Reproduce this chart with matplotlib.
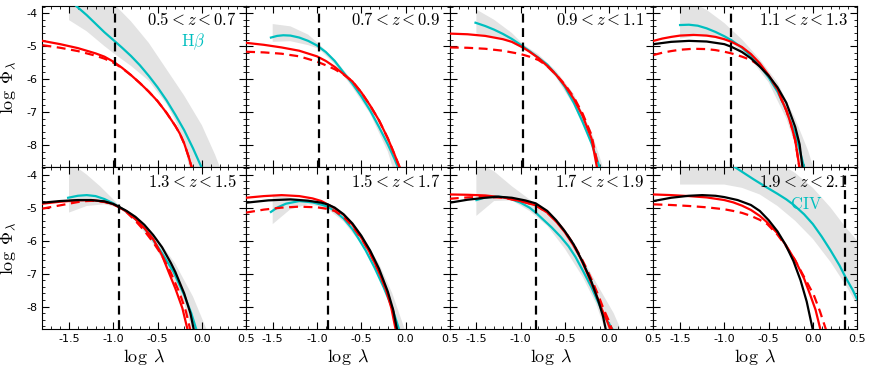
import numpy as np
import matplotlib
matplotlib.use('Agg')
import matplotlib.pyplot as plt
from matplotlib.ticker import MultipleLocator, FormatStrFormatter

plt.rcParams['mathtext.fontset'] = 'cm'
plt.rcParams['axes.unicode_minus'] = False

# redshift bins
z_labels = [r'$0.5<z<0.7$', r'$0.7<z<0.9$', r'$0.9<z<1.1$', r'$1.1<z<1.3$',
            r'$1.3<z<1.5$', r'$1.5<z<1.7$', r'$1.7<z<1.9$', r'$1.9<z<2.1$']

# vertical dashed line (log lambda) per panel
vline_x = [-0.98, -0.98, -0.97, -0.92, -0.94, -0.88, -0.83, 0.36]

# cyan curves (log lambda, log Phi)
cyan_1 = [[-1.45, -3.7], [-1.42, -3.78], [-1.3, -4.06], [-1.2, -4.32], [-1.1, -4.58],
          [-0.98, -4.86], [-0.9, -5.05], [-0.8, -5.3], [-0.7, -5.58], [-0.6, -5.9],
          [-0.5, -6.25], [-0.4, -6.64], [-0.3, -7.08], [-0.2, -7.55], [-0.1, -8.1],
          [0.0, -8.7], [0.02, -8.82]]
cyan_2 = [[-1.52, -4.74], [-1.45, -4.69], [-1.38, -4.67], [-1.3, -4.68], [-1.2, -4.74],
          [-1.1, -4.84], [-1.0, -4.98], [-0.9, -5.18], [-0.8, -5.45], [-0.7, -5.8],
          [-0.6, -6.14], [-0.5, -6.52], [-0.4, -6.95], [-0.3, -7.45], [-0.2, -7.98],
          [-0.12, -8.45], [-0.08, -8.72], [-0.06, -8.85]]
cyan_3 = [[-1.51, -4.29], [-1.4, -4.39], [-1.3, -4.5], [-1.2, -4.63], [-1.1, -4.78],
          [-1.0, -4.96], [-0.9, -5.15], [-0.8, -5.35], [-0.7, -5.56], [-0.6, -5.86],
          [-0.5, -6.24], [-0.4, -6.72], [-0.3, -7.3], [-0.2, -7.95], [-0.105, -8.7],
          [-0.09, -8.82]]
cyan_4 = [[-1.5, -4.36], [-1.4, -4.35], [-1.3, -4.38], [-1.2, -4.46], [-1.1, -4.57],
          [-1.0, -4.7], [-0.92, -4.82], [-0.8, -5.05], [-0.7, -5.3], [-0.6, -5.6],
          [-0.5, -5.95], [-0.4, -6.38], [-0.3, -6.95], [-0.2, -7.65], [-0.094, -8.72],
          [-0.08, -8.85]]
cyan_5 = [[-1.51, -4.7], [-1.4, -4.64], [-1.3, -4.62], [-1.2, -4.65], [-1.1, -4.74],
          [-1.0, -4.87], [-0.94, -4.97], [-0.85, -5.12], [-0.75, -5.35], [-0.65, -5.62],
          [-0.57, -5.9], [-0.45, -6.38], [-0.32, -6.95], [-0.2, -7.65], [-0.12, -8.2],
          [-0.06, -8.72], [-0.05, -8.85]]
cyan_6 = [[-1.52, -5.13], [-1.45, -5.0], [-1.35, -4.88], [-1.2, -4.8], [-1.05, -4.84],
          [-0.95, -4.91], [-0.88, -4.97], [-0.8, -5.1], [-0.7, -5.33], [-0.6, -5.65],
          [-0.54, -5.9], [-0.45, -6.3], [-0.35, -6.82], [-0.25, -7.4], [-0.15, -8.05],
          [-0.07, -8.72], [-0.05, -8.85]]
cyan_7 = [[-1.5, -4.77], [-1.4, -4.69], [-1.29, -4.65], [-1.15, -4.7], [-1.0, -4.85],
          [-0.9, -5.0], [-0.83, -5.15], [-0.75, -5.35], [-0.65, -5.6], [-0.55, -5.88],
          [-0.46, -6.17], [-0.38, -6.5], [-0.29, -6.95], [-0.2, -7.42], [-0.12, -7.9],
          [-0.05, -8.32], [0.045, -8.72], [0.06, -8.85]]
cyan_8 = [[-0.95, -3.65], [-0.87, -3.79], [-0.75, -4.0], [-0.67, -4.14], [-0.55, -4.34],
          [-0.4, -4.58], [-0.3, -4.75], [-0.215, -4.92], [-0.1, -5.2], [0.0, -5.5],
          [0.1, -5.88], [0.2, -6.3], [0.3, -6.75], [0.37, -7.12], [0.45, -7.5],
          [0.5, -7.78]]

# red solid curves
red_1 = [[-1.8, -4.84], [-1.6, -4.94], [-1.4, -5.06], [-1.2, -5.22], [-1.1, -5.32],
         [-1.0, -5.47], [-0.9, -5.66], [-0.8, -5.88], [-0.7, -6.12], [-0.6, -6.38],
         [-0.5, -6.67], [-0.4, -7.02], [-0.3, -7.42], [-0.25, -7.65], [-0.2, -7.95],
         [-0.15, -8.35], [-0.11, -8.72], [-0.1, -8.85]]
red_2 = [[-1.8, -4.9], [-1.6, -4.96], [-1.4, -5.04], [-1.2, -5.14], [-1.0, -5.31],
         [-0.9, -5.45], [-0.8, -5.63], [-0.7, -5.85], [-0.6, -6.07], [-0.5, -6.4],
         [-0.4, -6.8], [-0.3, -7.25], [-0.2, -7.8], [-0.13, -8.25], [-0.06, -8.72],
         [-0.05, -8.85]]
red_3 = [[-1.8, -4.62], [-1.6, -4.64], [-1.4, -4.69], [-1.2, -4.79], [-1.1, -4.87],
         [-0.97, -5.05], [-0.9, -5.17], [-0.8, -5.36], [-0.7, -5.6], [-0.6, -5.87],
         [-0.5, -6.2], [-0.4, -6.6], [-0.3, -7.12], [-0.2, -7.8], [-0.135, -8.72],
         [-0.125, -8.85]]
red_4 = [[-1.8, -4.84], [-1.7, -4.77], [-1.6, -4.72], [-1.5, -4.68], [-1.35, -4.66],
         [-1.2, -4.68], [-1.1, -4.72], [-1.0, -4.79], [-0.92, -4.87], [-0.8, -5.03],
         [-0.7, -5.24], [-0.6, -5.52], [-0.5, -5.88], [-0.4, -6.3], [-0.35, -6.64],
         [-0.3, -6.95], [-0.25, -7.35], [-0.2, -7.85], [-0.15, -8.72], [-0.14, -8.85]]
red_5 = [[-1.8, -4.88], [-1.6, -4.82], [-1.4, -4.78], [-1.25, -4.77], [-1.1, -4.82],
         [-1.0, -4.9], [-0.94, -4.98], [-0.85, -5.12], [-0.75, -5.35], [-0.65, -5.62],
         [-0.55, -5.95], [-0.45, -6.45], [-0.38, -6.92], [-0.3, -7.45], [-0.22, -8.05],
         [-0.16, -8.72], [-0.15, -8.85]]
red_6 = [[-1.8, -4.7], [-1.6, -4.65], [-1.4, -4.62], [-1.2, -4.65], [-1.05, -4.72],
         [-0.95, -4.8], [-0.88, -4.9], [-0.8, -5.02], [-0.7, -5.22], [-0.6, -5.52],
         [-0.49, -5.95], [-0.4, -6.38], [-0.3, -6.95], [-0.22, -7.5], [-0.16, -8.05],
         [-0.11, -8.72], [-0.1, -8.85]]
red_7 = [[-1.8, -4.6], [-1.6, -4.61], [-1.4, -4.63], [-1.2, -4.69], [-1.0, -4.8],
         [-0.83, -4.93], [-0.7, -5.15], [-0.59, -5.45], [-0.5, -5.75], [-0.41, -6.12],
         [-0.33, -6.5], [-0.26, -6.92], [-0.2, -7.3], [-0.14, -7.68], [-0.08, -8.1],
         [-0.03, -8.4], [0.016, -8.72], [0.03, -8.85]]
red_8 = [[-1.8, -4.6], [-1.6, -4.62], [-1.4, -4.65], [-1.2, -4.69], [-1.0, -4.77],
         [-0.9, -4.84], [-0.8, -4.94], [-0.7, -5.07], [-0.6, -5.25], [-0.515, -5.45],
         [-0.4, -5.78], [-0.3, -6.16], [-0.2, -6.6], [-0.1, -7.15], [-0.03, -7.65],
         [0.03, -8.1], [0.087, -8.72], [0.1, -8.85]]

# red dashed curves
redd_1 = [[-1.8, -4.97], [-1.6, -5.05], [-1.4, -5.15], [-1.2, -5.29], [-1.1, -5.38],
          [-1.0, -5.5], [-0.9, -5.67], [-0.8, -5.88], [-0.7, -6.12], [-0.6, -6.38],
          [-0.5, -6.67], [-0.4, -7.02], [-0.3, -7.42], [-0.25, -7.65], [-0.2, -7.95],
          [-0.15, -8.35], [-0.11, -8.72], [-0.1, -8.85]]
redd_2 = [[-1.8, -5.17], [-1.6, -5.19], [-1.4, -5.23], [-1.2, -5.31], [-1.0, -5.47],
          [-0.9, -5.58], [-0.8, -5.7], [-0.7, -5.86], [-0.6, -6.07], [-0.5, -6.4],
          [-0.4, -6.8], [-0.3, -7.25], [-0.2, -7.8], [-0.13, -8.25], [-0.06, -8.72],
          [-0.05, -8.85]]
redd_3 = [[-1.8, -5.04], [-1.6, -5.05], [-1.4, -5.08], [-1.2, -5.14], [-1.0, -5.24],
          [-0.9, -5.32], [-0.8, -5.42], [-0.7, -5.6], [-0.6, -5.86], [-0.5, -6.17],
          [-0.4, -6.55], [-0.3, -7.05], [-0.2, -7.7], [-0.12, -8.72], [-0.11, -8.85]]
redd_4 = [[-1.8, -5.27], [-1.7, -5.2], [-1.6, -5.15], [-1.5, -5.11], [-1.35, -5.08],
          [-1.2, -5.09], [-1.1, -5.12], [-1.0, -5.17], [-0.92, -5.22], [-0.8, -5.32],
          [-0.7, -5.42], [-0.6, -5.6], [-0.5, -5.9], [-0.4, -6.31], [-0.35, -6.65],
          [-0.3, -6.95], [-0.25, -7.35], [-0.2, -7.85], [-0.15, -8.72], [-0.14, -8.85]]
redd_5 = [[-1.8, -5.03], [-1.6, -4.93], [-1.5, -4.88], [-1.4, -4.83], [-1.3, -4.8],
          [-1.2, -4.79], [-1.1, -4.83], [-1.0, -4.9], [-0.94, -4.98], [-0.85, -5.14],
          [-0.75, -5.4], [-0.65, -5.7], [-0.55, -6.05], [-0.45, -6.45], [-0.35, -6.98],
          [-0.25, -7.6], [-0.18, -8.15], [-0.13, -8.72], [-0.12, -8.85]]
redd_6 = [[-1.8, -5.15], [-1.6, -5.06], [-1.4, -5.0], [-1.2, -4.97], [-1.0, -4.99],
          [-0.9, -5.03], [-0.8, -5.1], [-0.7, -5.28], [-0.6, -5.56], [-0.5, -5.93],
          [-0.4, -6.38], [-0.3, -6.95], [-0.2, -7.62], [-0.14, -8.15], [-0.1, -8.72],
          [-0.09, -8.85]]
redd_7 = [[-1.8, -4.73], [-1.6, -4.69], [-1.4, -4.67], [-1.2, -4.7], [-1.0, -4.8],
          [-0.83, -4.93], [-0.7, -5.15], [-0.59, -5.43], [-0.5, -5.72], [-0.41, -6.08],
          [-0.33, -6.45], [-0.25, -6.88], [-0.18, -7.3], [-0.12, -7.68], [-0.06, -8.1],
          [-0.01, -8.4], [0.035, -8.72], [0.05, -8.85]]
redd_8 = [[-1.8, -4.9], [-1.6, -4.92], [-1.4, -4.95], [-1.2, -4.99], [-1.0, -5.05],
          [-0.9, -5.1], [-0.8, -5.16], [-0.7, -5.25], [-0.6, -5.37], [-0.515, -5.5],
          [-0.4, -5.82], [-0.3, -6.18], [-0.2, -6.6], [-0.1, -7.1], [0.01, -7.65],
          [0.08, -8.15], [0.15, -8.72], [0.16, -8.85]]

# black curves (panels 4-8 only)
black_4 = [[-1.8, -4.94], [-1.6, -4.87], [-1.4, -4.84], [-1.2, -4.86], [-1.0, -4.94],
           [-0.92, -5.02], [-0.8, -5.18], [-0.7, -5.37], [-0.6, -5.62], [-0.5, -5.9],
           [-0.4, -6.25], [-0.3, -6.72], [-0.2, -7.45], [-0.15, -7.98], [-0.116, -8.72],
           [-0.105, -8.85]]
black_5 = [[-1.8, -4.85], [-1.6, -4.8], [-1.4, -4.77], [-1.25, -4.77], [-1.1, -4.81],
           [-1.0, -4.89], [-0.94, -4.97], [-0.85, -5.1], [-0.75, -5.28], [-0.65, -5.52],
           [-0.55, -5.83], [-0.45, -6.2], [-0.35, -6.68], [-0.3, -6.95], [-0.2, -7.6],
           [-0.13, -8.2], [-0.09, -8.72], [-0.08, -8.85]]
black_6 = [[-1.8, -4.85], [-1.55, -4.78], [-1.3, -4.75], [-1.1, -4.79], [-0.95, -4.85],
           [-0.88, -4.9], [-0.8, -5.0], [-0.7, -5.2], [-0.6, -5.48], [-0.5, -5.85],
           [-0.4, -6.3], [-0.3, -6.85], [-0.2, -7.55], [-0.14, -8.1], [-0.095, -8.72],
           [-0.085, -8.85]]
black_7 = [[-1.8, -4.85], [-1.6, -4.76], [-1.4, -4.7], [-1.25, -4.67], [-1.1, -4.7],
           [-0.95, -4.78], [-0.83, -4.87], [-0.7, -5.1], [-0.6, -5.38], [-0.5, -5.72],
           [-0.4, -6.12], [-0.3, -6.65], [-0.2, -7.25], [-0.12, -7.85], [-0.07, -8.3],
           [-0.037, -8.72], [-0.03, -8.85]]
black_8 = [[-1.8, -4.8], [-1.6, -4.7], [-1.4, -4.64], [-1.25, -4.62], [-1.1, -4.64],
           [-1.0, -4.68], [-0.85, -4.77], [-0.7, -4.92], [-0.6, -5.1], [-0.5, -5.38],
           [-0.4, -5.72], [-0.31, -6.12], [-0.22, -6.62], [-0.14, -7.2], [-0.07, -7.85],
           [0.0, -8.72], [0.01, -8.85]]

# gray band: upper edge and lower edge
band_up_1 = [[-1.5, -2.5], [-1.0, -3.7], [-0.8, -4.25], [-0.6, -4.9], [-0.4, -5.7],
             [-0.2, -6.5], [0.0, -7.4], [0.15, -8.3], [0.25, -9.0]]
band_lo_1 = [[-1.5, -4.21], [-1.3, -4.55], [-1.1, -5.0], [-0.98, -5.25], [-0.8, -5.6],
             [-0.6, -6.05], [-0.4, -6.75], [-0.3, -7.25], [-0.2, -7.95], [-0.12, -9.0]]
band_up_2 = [[-1.5, -4.33], [-1.3, -4.4], [-1.1, -4.65], [-0.98, -4.93], [-0.8, -5.4],
             [-0.6, -6.05], [-0.4, -6.85], [-0.2, -7.9], [-0.03, -9.0]]
band_lo_2 = [[-1.5, -4.87], [-1.3, -4.85], [-1.1, -4.97], [-0.98, -5.08], [-0.8, -5.55],
             [-0.6, -6.25], [-0.4, -7.05], [-0.2, -8.2], [-0.11, -9.0]]
band_up_3 = [[-1.5, -3.89], [-1.3, -4.2], [-1.1, -4.6], [-0.97, -4.95], [-0.8, -5.25],
             [-0.6, -5.75], [-0.4, -6.45], [-0.2, -7.6], [-0.03, -9.0]]
band_lo_3 = [[-1.5, -4.62], [-1.3, -4.72], [-1.1, -4.9], [-0.97, -5.08], [-0.8, -5.4],
             [-0.6, -5.95], [-0.4, -6.8], [-0.2, -8.0], [-0.13, -9.0]]
band_up_4 = [[-1.5, -3.5], [-1.2, -3.9], [-1.0, -4.3], [-0.8, -4.8], [-0.6, -5.4],
             [-0.4, -6.1], [-0.2, -7.2], [-0.05, -8.2], [0.04, -9.0]]
band_lo_4 = [[-1.5, -4.77], [-1.3, -4.68], [-1.1, -4.75], [-0.92, -4.9], [-0.7, -5.4],
             [-0.5, -6.1], [-0.3, -7.2], [-0.2, -8.0], [-0.13, -9.0]]
band_up_5 = [[-1.5, -3.6], [-1.3, -4.0], [-1.15, -4.35], [-1.0, -4.75], [-0.94, -4.92],
             [-0.75, -5.25], [-0.5, -5.95], [-0.3, -6.7], [-0.1, -7.7], [0.1, -9.0]]
band_lo_5 = [[-1.5, -5.15], [-1.3, -4.95], [-1.1, -4.9], [-0.94, -5.0], [-0.75, -5.4],
             [-0.55, -6.1], [-0.35, -7.0], [-0.2, -7.9], [-0.08, -9.0]]
band_up_6 = [[-1.5, -4.6], [-1.3, -4.7], [-1.1, -4.75], [-0.9, -4.92], [-0.7, -5.3],
             [-0.5, -5.85], [-0.3, -6.7], [-0.15, -7.6], [0.03, -9.0]]
band_lo_6 = [[-1.5, -5.5], [-1.3, -5.05], [-1.1, -4.9], [-0.9, -5.0], [-0.7, -5.42],
             [-0.5, -6.1], [-0.3, -7.0], [-0.15, -8.0], [-0.07, -9.0]]
band_up_7 = [[-1.5, -3.6], [-1.3, -3.9], [-1.1, -4.35], [-0.9, -4.75], [-0.7, -5.15],
             [-0.5, -5.75], [-0.3, -6.55], [-0.1, -7.5], [0.05, -8.2], [0.18, -9.0]]
band_lo_7 = [[-1.5, -5.25], [-1.3, -4.8], [-1.1, -4.78], [-0.9, -5.1], [-0.7, -5.55],
             [-0.5, -6.25], [-0.3, -7.1], [-0.15, -7.9], [-0.01, -9.0]]
band_up_8 = [[-1.5, -3.0], [-0.4, -3.6], [-0.2, -3.95], [0.0, -4.4], [0.2, -5.0],
             [0.37, -5.6], [0.5, -6.0]]
band_lo_8 = [[-1.5, -4.3], [-1.0, -4.3], [-0.8, -4.4], [-0.6, -4.6], [-0.4, -4.95],
             [-0.2, -5.4], [0.0, -5.95], [0.2, -6.65], [0.37, -7.35], [0.5, -7.95]]

cyans = [cyan_1, cyan_2, cyan_3, cyan_4, cyan_5, cyan_6, cyan_7, cyan_8]
reds = [red_1, red_2, red_3, red_4, red_5, red_6, red_7, red_8]
redds = [redd_1, redd_2, redd_3, redd_4, redd_5, redd_6, redd_7, redd_8]
blacks = [None, None, None, black_4, black_5, black_6, black_7, black_8]
bands_up = [band_up_1, band_up_2, band_up_3, band_up_4, band_up_5, band_up_6, band_up_7, band_up_8]
bands_lo = [band_lo_1, band_lo_2, band_lo_3, band_lo_4, band_lo_5, band_lo_6, band_lo_7, band_lo_8]

fig, axes = plt.subplots(2, 4, figsize=(8.72, 3.7), dpi=100, sharex=True, sharey=True)
fig.subplots_adjust(left=0.0487, right=0.983, top=0.984, bottom=0.111, wspace=0, hspace=0)

for i, ax in enumerate(axes.flat):
    up = np.array(bands_up[i])
    lo = np.array(bands_lo[i])
    poly = np.vstack([up, lo[::-1]])
    ax.fill(poly[:, 0], poly[:, 1], color='0.89', lw=0, zorder=1)

    c = np.array(cyans[i])
    ax.plot(c[:, 0], c[:, 1], color='c', lw=1.6, zorder=3)
    r = np.array(reds[i])
    ax.plot(r[:, 0], r[:, 1], color='r', lw=1.6, zorder=4)
    rd = np.array(redds[i])
    ax.plot(rd[:, 0], rd[:, 1], color='r', lw=1.6, ls=(0, (4, 2.5)), zorder=4)
    if blacks[i] is not None:
        b = np.array(blacks[i])
        ax.plot(b[:, 0], b[:, 1], color='k', lw=1.6, zorder=5)
    ax.axvline(vline_x[i], color='k', lw=1.6, ls=(0, (4, 2.5)), zorder=6)

    ax.text(0.955, 0.91, z_labels[i], transform=ax.transAxes, ha='right', va='center',
            fontsize=12)

    ax.set_xlim(-1.8, 0.5)
    ax.set_ylim(-8.68, -3.78)
    ax.xaxis.set_major_locator(MultipleLocator(0.5))
    ax.xaxis.set_minor_locator(MultipleLocator(0.1))
    ax.yaxis.set_major_locator(MultipleLocator(1))
    ax.yaxis.set_minor_locator(MultipleLocator(0.2))
    ax.tick_params(which='both', direction='in', top=True, right=True, labelsize=8)
    ax.tick_params(which='major', length=5)
    ax.tick_params(which='minor', length=2.5)
    ax.xaxis.set_major_formatter(FormatStrFormatter('%.1f'))
    ax.yaxis.set_major_formatter(FormatStrFormatter('%d'))

axes[0, 0].text(0.80, 0.78, r'$\mathrm{H}\beta$', transform=axes[0, 0].transAxes,
                ha='right', va='center', fontsize=12, color='c')
axes[1, 3].text(0.83, 0.775, r'$\mathrm{CIV}$', transform=axes[1, 3].transAxes,
                ha='right', va='center', fontsize=12, color='c')

for ax in axes[:, 0]:
    ax.set_ylabel(r'$\log\ \Phi_\lambda$', fontsize=13, labelpad=6)
for ax in axes[1, :]:
    ax.set_xlabel(r'$\log\ \lambda$', fontsize=13, labelpad=2)

fig.savefig('out.png', dpi=100)
